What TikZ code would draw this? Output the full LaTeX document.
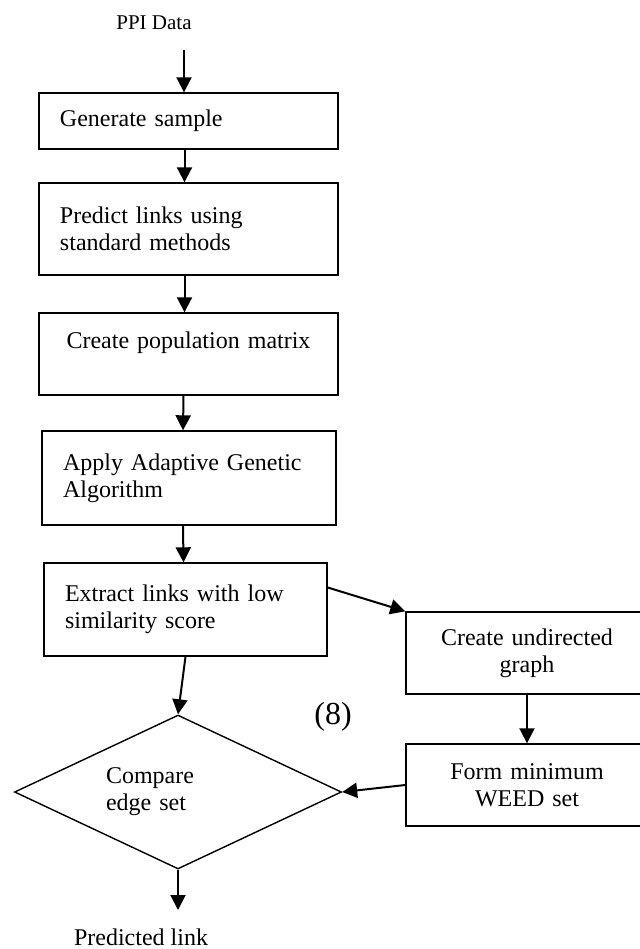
\documentclass[tikz,border=0pt]{standalone}
\usepackage{fontspec}
\setmainfont{Liberation Serif}
\usepackage{tikz}
\usetikzlibrary{arrows.meta,shapes.geometric}
\tikzset{flow/.style={line width=1pt,-{Triangle[length=7.5pt,width=7.5pt]}}}
\tikzset{stage/.style={draw,line width=0.7pt,rectangle,inner xsep=10.5pt,inner ysep=0pt,
    align=left,font=\fontsize{12}{13.5}\selectfont}}

\begin{document}
\begin{tikzpicture}[x=0.5pt,y=-0.5pt]
        % Page frame
        \useasboundingbox (0,0) rectangle (640,949);
        \clip (0,0) rectangle (640,949);
        % Input and output labels
        \node[font=\fontsize{10.5}{12}\selectfont] (ppi) at (154,23) {PPI Data};
        \coordinate (ppitail) at (184,50);
        \node[font=\fontsize{12}{13.5}\selectfont] (out) at (141,937) {Predicted link};
        \coordinate (outtip) at (178,910);
        % Main column of stages
        \node[stage,text width=128.5pt,minimum height=28pt] (gen) at (188.5,121)
        {Generate sample};
        \node[stage,text width=128.5pt,minimum height=46pt] (pred) at (188.5,229)
        {Predict links using\\standard methods};
        \node[stage,text width=128.5pt,minimum height=41pt,align=center] (pop) at (188.5,354)
        {Create population matrix\\\mbox{}};
        \node[stage,text width=126pt,minimum height=47pt] (aga) at (189,478)
        {Apply Adaptive Genetic\\Algorithm};
        \node[stage,text width=120.5pt,minimum height=46.5pt] (ext) at (185.5,609.5)
        {Extract links with low\\similarity score};
        % Decision
        \node[draw,line width=0.7pt,diamond,inner sep=0pt,shape aspect=2.1,
        minimum width=163.5pt,minimum height=77pt,text width=72pt,align=left,
        font=\fontsize{12}{13.5}\selectfont] (cmp) at (178,792)
        {Compare\\edge set};
        % Side branch
        \node[stage,text width=100pt,minimum height=41pt,align=center] (und) at (527,653)
        {Create undirected\\graph};
        \node[stage,text width=100pt,minimum height=41pt,align=center] (weed) at (527,785)
        {Form minimum\\WEED set};
        \node[font=\fontsize{16}{18}\selectfont] (eq) at (333,717) {(8)};
        % Connectors
        \draw[flow] (ppitail) -- (ppitail |- gen.north);
        \draw[flow] ([xshift=-2pt]gen.south) -- ([xshift=-2pt]pred.north);
        \draw[flow] ([xshift=-2pt]pred.south) -- ([xshift=-2pt]pop.north);
        \draw[flow] ([xshift=-2.5pt]pop.south) -- ([xshift=-3pt]aga.north);
        \draw[flow] ([xshift=-3pt]aga.south) -- ([xshift=-1pt]ext.north);
        \draw[flow] (ext.south) -- (cmp.north);
        \draw[flow] ([yshift=11pt]ext.east) -- (und.north west);
        \draw[flow] (und.south) -- (weed.north);
        \draw[flow] (weed.west) -- (cmp.east);
        \draw[flow] (cmp.south) -- (outtip);
\end{tikzpicture}
\end{document}
